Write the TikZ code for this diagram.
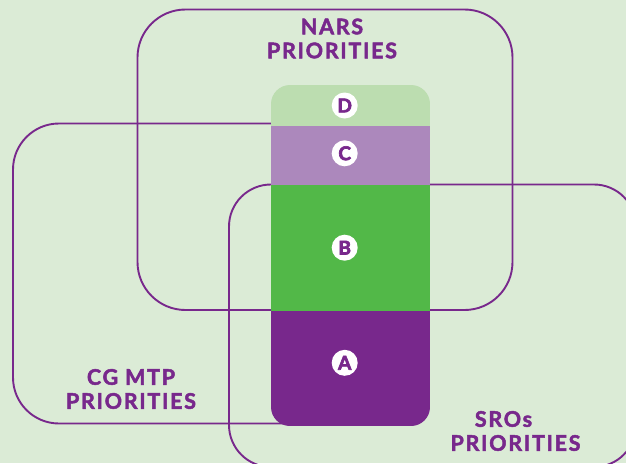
\documentclass[tikz,border=0pt]{standalone}
\usepackage{fontspec}
\setmainfont{Lato}
\newfontfamily\capfont{Lato Bold}[FakeBold=2.2, LetterSpace=8]
\newfontfamily\badgefont{Lato Bold}[FakeBold=3.5]
\definecolor{bgmint}{HTML}{DBEBD6}
\definecolor{plum}{HTML}{78288C}
\definecolor{lilac}{HTML}{AC88BC}
\definecolor{leaf}{HTML}{52B848}
\definecolor{pale}{HTML}{BCDDB0}
\tikzset{
  ring/.style={draw=plum, line width=1.9pt, rectangle, inner sep=0pt},
  label/.style={text=plum, font=\capfont\fontsize{21.5}{24}\selectfont, align=center, inner sep=0pt},
  badge/.style={circle, fill=white, minimum size=26pt, inner sep=0pt, text=plum, font=\badgefont\fontsize{19}{19}\selectfont},
}
\begin{document}
\begin{tikzpicture}[x=1pt, y=-1pt]
  % canvas
  \fill[bgmint] (0,0) rectangle (626,463);
  \useasboundingbox (0,0) rectangle (626,463);

  % the three overlapping priority frames
  \node[ring, rounded corners=48pt, minimum width=375pt, minimum height=300.5pt] (nars) at (325,159.75) {};
  \node[ring, rounded corners=46pt, minimum width=400pt, minimum height=300pt] (cgmtp) at (213,273.5) {};
  \node[ring, rounded corners=42pt, minimum width=407pt, minimum height=282.5pt] (sros) at (432.5,325.75) {};

  % stacked column of the four zones
  \begin{scope}
    \clip[rounded corners=19pt] (271,85) rectangle (430,426);
    \fill[pale]  (271,85)    rectangle (430,125.7);
    \fill[lilac] (271,125.7) rectangle (430,185);
    \fill[leaf]  (271,185)   rectangle (430,311);
    \fill[plum]  (271,311)   rectangle (430,426);
  \end{scope}

  \node[badge] (d) at (344.7,105.5) {D};
  \node[badge] (c) at (344.7,153.3) {C};
  \node[badge] (b) at (344.7,247.7) {B};
  \node[badge] (a) at (344.7,362.8) {A};

  % frame captions
  \node[label] (narsT) at (332,38.5) {NARS\\PRIORITIES};
  \node[label] (cgT) at (131,389) {CG MTP\\PRIORITIES};
  \node[label] (srosT) at (515.5,431) {\hspace*{-24pt}SROs\\PRIORITIES};
\end{tikzpicture}
\end{document}
